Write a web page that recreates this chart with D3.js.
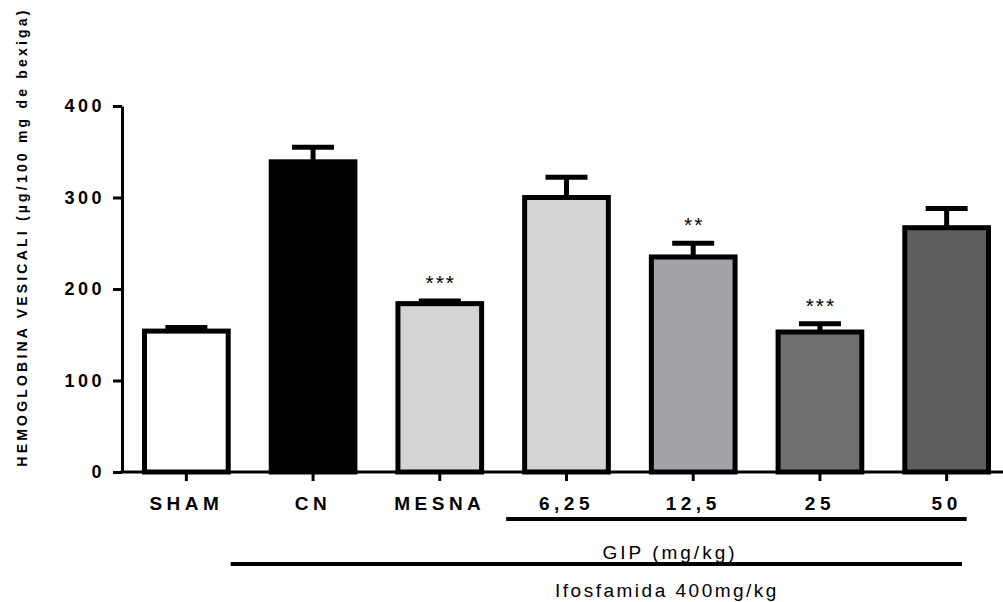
<!DOCTYPE html>
<html>
<head>
<meta charset="utf-8">
<script src="https://cdn.jsdelivr.net/npm/d3@7"></script>
<style>
  body { margin: 0; background: #fff; }
  svg { font-family: "Liberation Sans", Arial, sans-serif; }
</style>
</head>
<body>
<svg width="1003" height="602"></svg>
<script>
var categories = ["SHAM", "CN", "MESNA", "6,25", "12,5", "25", "50"];
var means = [154, 339, 184, 300, 235, 153, 267];
var errors = [4, 16, 3, 22, 15, 9, 21];
var stars = ["", "", "***", "", "**", "***", ""];
var fills = ["#ffffff", "#000000", "#d4d4d4", "#d4d4d4", "#a3a3a7", "#6f6f6f", "#5d5d5d"];
var yTicks = [0, 100, 200, 300, 400];

var svg = d3.select("svg");

var x = d3.scaleBand()
          .domain(categories)
          .range([123, 1010])
          .paddingInner(0.3)
          .paddingOuter(0.15);

var y = d3.scaleLinear()
          .domain([0, 400])
          .range([472, 106]);

var bars = svg.append("g");

// error bars (upper only), drawn before bars
bars.selectAll(".err")
    .data(categories)
    .enter().append("line")
    .attr("x1", function(d) { return x(d) + x.bandwidth() / 2; })
    .attr("x2", function(d) { return x(d) + x.bandwidth() / 2; })
    .attr("y1", function(d, i) { return y(means[i]); })
    .attr("y2", function(d, i) { return y(means[i] + errors[i]); })
    .attr("stroke", "#000")
    .attr("stroke-width", 5);

bars.selectAll(".cap")
    .data(categories)
    .enter().append("line")
    .attr("x1", function(d) { return x(d) + x.bandwidth() / 2 - 21; })
    .attr("x2", function(d) { return x(d) + x.bandwidth() / 2 + 21; })
    .attr("y1", function(d, i) { return y(means[i] + errors[i]); })
    .attr("y2", function(d, i) { return y(means[i] + errors[i]); })
    .attr("stroke", "#000")
    .attr("stroke-width", 5);

bars.selectAll("rect")
    .data(categories)
    .enter().append("rect")
    .attr("x", function(d) { return x(d) + 2.5; })
    .attr("width", x.bandwidth() - 5)
    .attr("y", function(d, i) { return y(means[i]); })
    .attr("height", function(d, i) { return y(0) - y(means[i]); })
    .attr("fill", function(d, i) { return fills[i]; })
    .attr("stroke", "#000")
    .attr("stroke-width", 5);

bars.selectAll(".star")
    .data(categories)
    .enter().append("text")
    .attr("x", function(d) { return x(d) + x.bandwidth() / 2 + 1; })
    .attr("y", function(d, i) { return y(means[i] + errors[i]) - 11; })
    .attr("text-anchor", "middle")
    .style("font-size", "21px")
    .style("letter-spacing", "2px")
    .text(function(d, i) { return stars[i]; });

// axes
var yAxis = svg.append("g")
    .attr("transform", "translate(122,0)")
    .call(d3.axisLeft(y).tickValues(yTicks).tickSize(9).tickSizeOuter(0).tickPadding(8));

var xAxis = svg.append("g")
    .attr("transform", "translate(0,472)")
    .call(d3.axisBottom(x).tickSize(9).tickSizeOuter(0).tickPadding(16));

xAxis.select(".domain").attr("d", "M120.5,0H1003");

svg.selectAll(".domain, .tick line")
   .attr("stroke", "#000")
   .attr("stroke-width", 3);

yAxis.selectAll("text")
     .style("font-size", "18px")
     .style("font-weight", "bold")
     .style("letter-spacing", "3.5px")
     .attr("fill", "#000");

xAxis.selectAll("text")
     .style("font-size", "19px")
     .style("font-weight", "bold")
     .style("letter-spacing", "4.5px")
     .attr("fill", "#000");

// group lines
var gipStart = x("6,25") - 16, gipEnd = x("50") + x.bandwidth() / 2 + 20;
svg.append("line")
   .attr("x1", gipStart).attr("x2", gipEnd)
   .attr("y1", 519).attr("y2", 519)
   .attr("stroke", "#000").attr("stroke-width", 4);

svg.append("text")
   .attr("x", 670).attr("y", 559)
   .attr("text-anchor", "middle")
   .style("font-size", "19px")
   .style("letter-spacing", "3px")
   .text("GIP (mg/kg)");

svg.append("line")
   .attr("x1", x("SHAM") + x.bandwidth()).attr("x2", 962)
   .attr("y1", 564).attr("y2", 564)
   .attr("stroke", "#000").attr("stroke-width", 4);

svg.append("text")
   .attr("x", 667).attr("y", 597)
   .attr("text-anchor", "middle")
   .style("font-size", "19px")
   .style("letter-spacing", "2.5px")
   .text("Ifosfamida 400mg/kg");

// y axis title
svg.append("text")
   .attr("transform", "translate(27,237) rotate(-90)")
   .attr("text-anchor", "middle")
   .style("font-size", "14px")
   .style("font-weight", "bold")
   .style("letter-spacing", "3.2px")
   .text("HEMOGLOBINA VESICALI (µg/100 mg de bexiga)");
</script>
</body>
</html>
